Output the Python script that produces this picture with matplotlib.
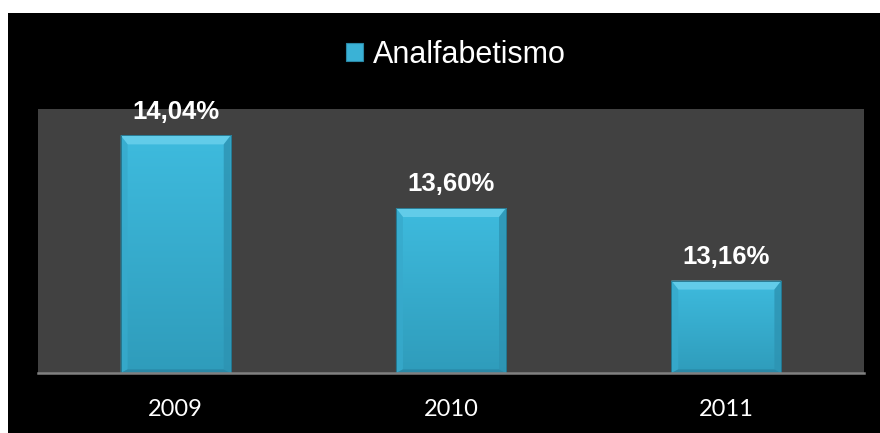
import matplotlib
matplotlib.use("Agg")
import matplotlib.pyplot as plt
import numpy as np
from matplotlib.patches import Rectangle, Polygon, Patch
from matplotlib.colors import LinearSegmentedColormap

categories = ["2009", "2010", "2011"]
values = [14.04, 13.60, 13.16]
labels = ["14,04%", "13,60%", "13,16%"]
series_name = "Analfabetismo"

W, H = 880, 433
fig = plt.figure(figsize=(W / 100, H / 100), dpi=100)
fig.patch.set_facecolor("white")
# black chart area
fig.patches.append(Rectangle((8 / W, 0), (W - 8) / W, (H - 13) / H,
                             transform=fig.transFigure, facecolor="black",
                             edgecolor="none", zorder=-5))

ax = fig.add_axes([38 / W, (H - 373) / H, 826 / W, 264 / H])
ax.set_zorder(1)
ax.set_facecolor("#414141")

x = np.arange(len(categories))
bw = 0.4
YMIN, YMAX = 12.6, 14.2
bars = ax.bar(x, values, width=bw, color="#3AB2D6", edgecolor="none", zorder=2)

cmap = LinearSegmentedColormap.from_list("g", ["#3EBBDE", "#2F9CBB"])
grad = np.linspace(0, 1, 256).reshape(-1, 1)
# bevel size in data units (approx 8 px)
bx = 7 / 275.3
by = 9 / 165.0
for b in bars:
    l = b.get_x(); r = l + b.get_width(); t = b.get_height() + b.get_y()
    bot = YMIN
    im = ax.imshow(grad, extent=(l, r, bot, t), aspect="auto", cmap=cmap,
                   origin="upper", zorder=2.1)
    im.set_clip_path(b)
    ax.add_patch(Polygon([(l, t), (r, t), (r - bx, t - by), (l + bx, t - by)],
                         closed=True, facecolor="#62CCE9", edgecolor="none", zorder=2.2))
    ax.add_patch(Polygon([(l, t), (l + bx, t - by), (l + bx, bot + by * 0.4), (l, bot)],
                         closed=True, facecolor="#37AACC", edgecolor="none", alpha=0.8, zorder=2.2))
    ax.add_patch(Polygon([(r, t), (r - bx, t - by), (r - bx, bot + by * 0.4), (r, bot)],
                         closed=True, facecolor="#2D93B2", edgecolor="none", alpha=0.8, zorder=2.2))
    ax.add_patch(Polygon([(l, bot), (r, bot), (r - bx, bot + by * 0.4), (l + bx, bot + by * 0.4)],
                         closed=True, facecolor="#2A88A6", edgecolor="none", zorder=2.2))
    ax.add_patch(Rectangle((l, bot), r - l, t - bot, facecolor="none",
                           edgecolor="#226f86", linewidth=0.6, zorder=2.3))

ax.set_xlim(-0.5, 2.5)
ax.set_ylim(YMIN, YMAX)

for b, lab in zip(bars, labels):
    ax.annotate(lab, (b.get_x() + b.get_width() / 2, b.get_height()),
                xytext=(0, 8.5), textcoords="offset points", ha="center", va="bottom",
                color="white", fontsize=18.5, fontweight="bold",
                fontfamily="Liberation Sans", zorder=5, annotation_clip=False)

for s in ["top", "left", "right"]:
    ax.spines[s].set_visible(False)
ax.spines["bottom"].set_color("#808080")
ax.spines["bottom"].set_linewidth(1.8)
ax.spines["bottom"].set_zorder(4)
ax.set_yticks([])
ax.set_xticks(x)
ax.set_xticklabels(categories, color="white", fontsize=17, family="Lato")
ax.tick_params(axis="x", length=0, pad=19)

h = Patch(facecolor="#3AB2D6", edgecolor="#2a88a6", linewidth=0.8)
leg = fig.legend([h], [series_name], loc="center",
                 bbox_to_anchor=(456 / W, 1 - 55 / H), frameon=False,
                 prop={"family": "Liberation Sans", "size": 22},
                 handlelength=0.55, handleheight=0.55, handletextpad=0.35,
                 labelcolor="white")

fig.savefig("out.png", dpi=100, facecolor=fig.get_facecolor())
